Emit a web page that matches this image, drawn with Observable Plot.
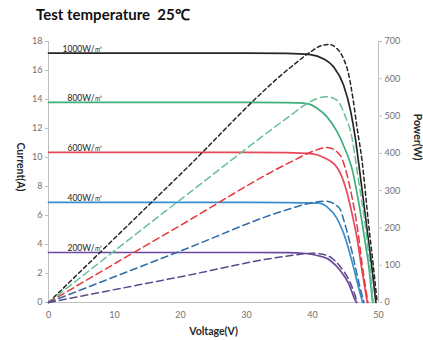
<!DOCTYPE html>
<html><head><meta charset="utf-8">
<script src="https://cdn.jsdelivr.net/npm/d3@7"></script>
<script src="https://cdn.jsdelivr.net/npm/@observablehq/plot@0.6"></script>
<style>
html,body{margin:0;padding:0;background:#fff;}
#wrap{width:423px;height:340px;overflow:hidden;background:#fff;}
#title{box-sizing:border-box;height:30px;padding:5px 0 0 36px;font-family:Lato,"Open Sans",sans-serif;font-weight:bold;font-size:15px;line-height:18px;color:#111;white-space:pre;}
#chart{height:310px;}
</style></head>
<body><div id="wrap"><div id="title"></div><div id="chart"></div></div>
<script>
// ---- data ----
const chartTitle = "Test temperature  25℃";
const irradiance = ["1000W/㎡", "800W/㎡", "600W/㎡", "400W/㎡", "200W/㎡"];
const isc = [17.2, 13.8, 10.35, 6.9, 3.45];
const voltageTicks = [0, 10, 20, 30, 40, 50];
const currentTicks = [0, 2, 4, 6, 8, 10, 12, 14, 16, 18];
const powerTicks = [0, 100, 200, 300, 400, 500, 600, 700];

// I-V curves (voltage, current)
const v1000 = [0, 30, 36, 39.7, 41.7, 43.2, 44.7, 45.8, 46.5, 47, 48, 49, 49.6];
const i1000 = [17.2, 17.2, 17.18, 17.1, 16.8, 16.25, 15.0, 13.15, 11.3, 9.6, 6.0, 2.4, 0];
const v800 = [0, 30, 36, 39.2, 40.7, 42.2, 43.7, 45, 46, 47, 48, 48.5, 49.1];
const i800 = [13.8, 13.8, 13.78, 13.72, 13.4, 12.8, 11.8, 10.5, 9.2, 6.9, 4.1, 2.6, 0];
const v600 = [0, 30, 36, 40, 41.7, 43.7, 45, 46, 46.8, 47.5, 48.3];
const i600 = [10.35, 10.35, 10.33, 10.25, 10.0, 9.33, 7.95, 6.1, 4.3, 2.2, 0];
const v400 = [0, 30, 36, 41, 42.2, 43.7, 45, 46, 47, 47.6];
const i400 = [6.9, 6.9, 6.89, 6.85, 6.6, 5.8, 4.4, 2.8, 1.0, 0];
const v200 = [0, 30, 36, 39, 40.7, 42.7, 44.2, 45.5, 46.5, 46.7];
const i200 = [3.45, 3.45, 3.44, 3.38, 3.24, 2.9, 2.2, 1.29, 0.14, 0];

// P-V curves (voltage, power)
const pv1000 = [0, 20, 36.7, 39.7, 41.2, 42.5, 43.7, 44.7, 45.5, 46.2, 46.7, 47.5, 48.5, 49.2, 49.8];
const p1000 = [0, 344, 631, 672, 688, 692, 681, 654, 610, 539, 475, 381, 210, 100, 0];
const pv800 = [0, 20, 36.7, 39.2, 42, 43.7, 44.9, 46, 46.6, 47, 48, 48.5, 49.2];
const p800 = [0, 276, 502, 534, 552, 543, 502, 440, 373, 325, 205, 130, 0];
const pv600 = [0, 20, 36.7, 40, 42.2, 44.2, 45, 46, 46.8, 47.5, 48.4];
const p600 = [0, 207, 377, 405, 416, 395, 358, 281, 201, 105, 0];
const pv400 = [0, 20, 36, 40, 42, 44, 45, 46, 47, 47.8];
const p400 = [0, 138, 248, 268, 272, 255, 205, 135, 55, 0];
const pv200 = [0, 20, 36, 40, 41, 42.7, 44.2, 45.8, 46.8];
const p200 = [0, 69, 124, 132, 131, 122, 96, 50, 0];

// ---- styles ----
const solidColors = ["#262626", "#3fae7c", "#e8475a", "#3b8dcc", "#6a4a9e"];
const dashColors = ["#262626", "#68c096", "#e8383c", "#2f6da6", "#5b4a8c"];
const dashPatterns = ["4,3", "7,4", "7,4", "7,4", "7,4"];

const ivCurves = [[v1000, i1000], [v800, i800], [v600, i600], [v400, i400], [v200, i200]];
const pvCurves = [[pv1000, p1000], [pv800, p800], [pv600, p600], [pv400, p400], [pv200, p200]];

const yMax = 18, pMax = 700;
const toY = p => p * yMax / pMax;   // power axis shares the frame with the current axis

const font = "Lato, 'Open Sans', sans-serif";
const marks = [];

// axis lines
marks.push(Plot.ruleX([0], {stroke: "#bfbfbf"}));
marks.push(Plot.ruleX([50], {stroke: "#bfbfbf"}));
marks.push(Plot.ruleY([0], {stroke: "#bfbfbf"}));

// ticks + tick labels
marks.push(Plot.axisY(currentTicks, {tickSize: 3, tickFormat: () => "", label: null, color: "#bfbfbf"}));
marks.push(Plot.axisY(currentTicks, {tickSize: 0, tickPadding: 6, label: null, color: "#707070", fontSize: 9}));
marks.push(Plot.axisY(powerTicks.map(toY), {anchor: "right", tickSize: 3, tickFormat: () => "", label: null, color: "#bfbfbf"}));
marks.push(Plot.axisY(powerTicks.map(toY), {anchor: "right", tickSize: 0, tickPadding: 6, label: null, color: "#707070", fontSize: 9,
  tickFormat: d => String(Math.round(d * pMax / yMax))}));
marks.push(Plot.axisX(voltageTicks, {tickSize: 0, tickPadding: 9, label: null, color: "#707070", fontSize: 9}));

// I-V solid lines
ivCurves.forEach(([vs, is], k) => {
  const rows = vs.map((v, j) => ({v, i: is[j]}));
  marks.push(Plot.line(rows, {x: "v", y: "i", stroke: solidColors[k], strokeWidth: 1.7, curve: "monotone-x"}));
});
// P-V dashed lines
pvCurves.forEach(([vs, ps], k) => {
  const rows = vs.map((v, j) => ({v, p: ps[j]}));
  marks.push(Plot.line(rows, {x: "v", y: d => toY(d.p), stroke: dashColors[k], strokeWidth: 1.5,
    strokeDasharray: dashPatterns[k], curve: "monotone-x"}));
});

// irradiance labels
const labelRows = irradiance.map((t, k) => ({t, y: isc[k]}));
marks.push(Plot.text(labelRows, {y: "y", text: "t", frameAnchor: "left", textAnchor: "end", lineAnchor: "bottom",
  dx: 55, dy: -1.5, fontSize: 8.5, fill: "#222"}));

// axis titles
marks.push(Plot.text(["Current(A)"], {text: d => d, frameAnchor: "left", dx: -28, dy: -29.5, rotate: 90,
  fontWeight: "bold", fontSize: 10.5, fill: "#262626"}));
marks.push(Plot.text(["Power(W)"], {text: d => d, frameAnchor: "right", dx: 38.5, dy: -11.5, rotate: 90,
  fontWeight: "bold", fontSize: 10.5, fill: "#262626"}));
marks.push(Plot.text(["Voltage(V)"], {text: d => d, frameAnchor: "bottom", dy: 29.5, lineAnchor: "middle",
  fontWeight: "bold", fontSize: 10.5, fill: "#262626"}));

const chart = Plot.plot({
  width: 423, height: 310,
  marginLeft: 48, marginRight: 45, marginTop: 11, marginBottom: 38,
  x: {domain: [0, 50], axis: null},
  y: {domain: [0, yMax], axis: null},
  style: {fontFamily: font, fontSize: "9px", background: "transparent", overflow: "visible"},
  marks
});
document.getElementById("title").textContent = chartTitle;
document.getElementById("chart").appendChild(chart);
</script></body></html>
